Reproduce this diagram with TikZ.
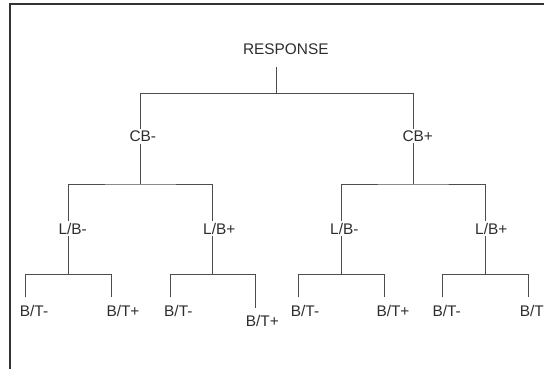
\documentclass[tikz,border=0pt]{standalone}
\usepackage{fontspec}
\setmainfont{Liberation Sans}
\definecolor{inkline}{gray}{0.30}
\definecolor{inktext}{gray}{0.18}
\begin{document}
\begin{tikzpicture}[x=1pt,y=-1pt,
  branch/.style={draw=inkline,line width=0.8pt},
  lbl/.style={font=\fontsize{15.4}{18}\selectfont,text=inktext,fill=white,
    inner xsep=1pt,inner ysep=2pt,anchor=base west},
  leaf/.style={lbl,fill=none}]
\useasboundingbox (0,0) rectangle (544,368);
\clip (0,0) rectangle (544,368);
% outer frame (only its left and top sides fall inside the page)
\draw[black!80,line width=1.2pt] (10,4) rectangle (620,420);

% branch points on the tree lines
\coordinate (rTop) at (276.7,67.3);
\coordinate (rJ)   at (276.7,93.3);
\coordinate (cbm)  at (140.7,136);
\coordinate (cbp)  at (413,136);
\coordinate (cbmJ) at (140.7,184);
\coordinate (cbpJ) at (413,184);
\coordinate (lmm)  at (68.3,229);
\coordinate (lmp)  at (212.3,229);
\coordinate (lpm)  at (341,229);
\coordinate (lpp)  at (485.5,229);
\coordinate (lmmJ) at (68.3,274.3);
\coordinate (lmpJ) at (212.3,274.3);
\coordinate (lpmJ) at (341,274.3);
\coordinate (lppJ) at (485.5,274.3);
\coordinate (t1) at (25.7,297.3);
\coordinate (t2) at (111,297.3);
\coordinate (t3) at (170.3,297.3);
\coordinate (t4) at (255.7,308.3);
\coordinate (t5) at (298.3,297.3);
\coordinate (t6) at (384,297.3);
\coordinate (t7) at (442.7,297.3);
\coordinate (t8) at (528.3,297.3);

% connectors
\draw[branch] (rTop) -- (rJ);
\draw[branch] (cbm) |- (rJ) -| (cbp);
\draw[branch] (cbm) -- (cbmJ);
\draw[branch] (cbp) -- (cbpJ);
\draw[branch] (lmm) |- (cbmJ) -| (lmp);
\draw[branch] (lpm) |- (cbpJ) -| (lpp);
\draw[branch] (lmm) -- (lmmJ);
\draw[branch] (lmp) -- (lmpJ);
\draw[branch] (lpm) -- (lpmJ);
\draw[branch] (lpp) -- (lppJ);
\draw[branch] (t1) |- (lmmJ) -| (t2);
\draw[branch] (t3) |- (lmpJ) -| (t4);
\draw[branch] (t5) |- (lpmJ) -| (t6);
\draw[branch] (t7) |- (lppJ) -| (t8);

% labels
\node[lbl,anchor=base] (resp) at (285.8,54.3) {RESPONSE};
\node[lbl] (cbmL) at (128.3,141.7) {CB-};
\node[lbl] (cbpL) at (401.3,141.3) {CB+};
\node[lbl] (lmmL) at (57.3,234.3) {L/B-};
\node[lbl] (lmpL) at (202,234.3) {L/B+};
\node[lbl] (lpmL) at (329,234.3) {L/B-};
\node[lbl] (lppL) at (474,234.3) {L/B+};
\node[leaf] (b1) at (18.7,316) {B/T-};
\node[leaf] (b2) at (105.3,316) {B/T+};
\node[leaf] (b3) at (163,316) {B/T-};
\node[leaf] (b4) at (244.7,326.7) {B/T+};
\node[leaf] (b5) at (289.7,316) {B/T-};
\node[leaf] (b6) at (375.3,316) {B/T+};
\node[leaf] (b7) at (431.3,316) {B/T-};
\node[leaf] (b8) at (518.7,316) {B/T+};
\end{tikzpicture}
\end{document}
